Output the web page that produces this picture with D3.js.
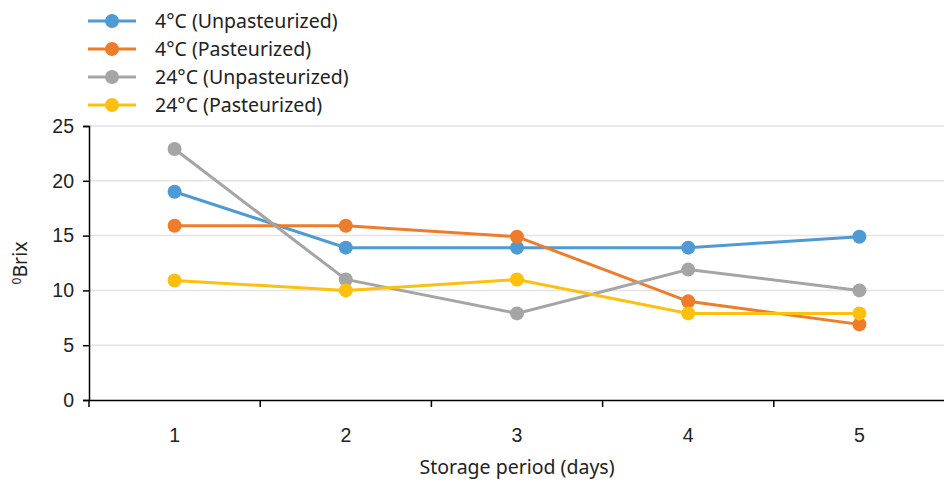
<!DOCTYPE html>
<html>
<head>
<meta charset="utf-8">
<script src="https://cdn.jsdelivr.net/npm/d3@7"></script>
<style>
  body { margin: 0; background: #fff; }
  svg { display: block; font-family: "Noto Sans", "Open Sans", sans-serif; }
</style>
</head>
<body>
<div id="chart"></div>
<script>
// Data
const days = ["1", "2", "3", "4", "5"];
const yTicks = [0, 5, 10, 15, 20, 25];
const seriesNames = ["4°C (Unpasteurized)", "4°C (Pasteurized)", "24°C (Unpasteurized)", "24°C (Pasteurized)"];
const seriesColors = ["#4e9ad4", "#ee7c2b", "#a5a5a5", "#fdc00f"];
const unpast4 = [19, 13.9, 13.9, 13.9, 14.9];
const past4 = [15.9, 15.9, 14.9, 9, 6.9];
const unpast24 = [22.9, 11, 7.9, 11.9, 10];
const past24 = [10.9, 10, 11, 7.9, 7.9];
const seriesValues = [unpast4, past4, unpast24, past24];

const width = 944, height = 483;
const margin = { left: 89, right: 0, top: 126, bottom: 83 };
const fs = 19.5;

const svg = d3.select("#chart").append("svg")
    .attr("width", width)
    .attr("height", height);

// Scales
const x = d3.scaleBand().domain(days).range([margin.left, 945]);
const y = d3.scaleLinear().domain([0, 25]).range([height - margin.bottom, margin.top]);

// Gridlines
svg.append("g")
    .selectAll("line")
    .data(yTicks.filter(d => d > 0))
    .join("line")
    .attr("x1", margin.left)
    .attr("x2", width)
    .attr("y1", d => y(d))
    .attr("y2", d => y(d))
    .attr("stroke", "#e3e3e3")
    .attr("stroke-width", 1.5);

// Y axis
const gy = svg.append("g")
    .attr("transform", `translate(${margin.left},0)`)
    .call(d3.axisLeft(y).tickValues(yTicks).tickSize(6).tickPadding(9));
gy.select(".domain").attr("stroke", "#000").attr("stroke-width", 1.5);
gy.selectAll(".tick line").attr("stroke", "#000").attr("stroke-width", 1.5);
gy.selectAll(".tick text").attr("font-size", fs).attr("fill", "#222").attr("font-family", "inherit");

// X axis
const gx = svg.append("g")
    .attr("transform", `translate(0,${y(0)})`)
    .call(d3.axisBottom(x).tickSize(0).tickPadding(28));
gx.select(".domain").attr("stroke", "#000").attr("stroke-width", 1.5);
gx.selectAll(".tick text").attr("font-size", fs).attr("fill", "#222").attr("font-family", "inherit");
gx.selectAll(".boundary")
    .data(days.map(d => x(d) + x.bandwidth()).concat([x(days[0])]))
    .join("line")
    .attr("x1", d => d)
    .attr("x2", d => d)
    .attr("y1", 0)
    .attr("y2", 7)
    .attr("stroke", "#000")
    .attr("stroke-width", 1.5);

// Axis titles
svg.append("text")
    .attr("x", 517)
    .attr("y", 474)
    .attr("text-anchor", "middle")
    .attr("font-size", fs)
    .attr("fill", "#222")
    .text("Storage period (days)");

const yTitle = svg.append("text")
    .attr("transform", `translate(27,${y(12.5)}) rotate(-90)`)
    .attr("text-anchor", "middle")
    .attr("font-size", fs)
    .attr("fill", "#222");
yTitle.append("tspan").attr("font-size", 12).attr("dy", -6).text("0");
yTitle.append("tspan").attr("dy", 6).text("Brix");

// Lines and markers
const line = d3.line()
    .x((d, i) => x(days[i]) + x.bandwidth() / 2)
    .y(d => y(d));

seriesValues.forEach((vals, s) => {
    const g = svg.append("g");
    g.append("path")
        .datum(vals)
        .attr("fill", "none")
        .attr("stroke", seriesColors[s])
        .attr("stroke-width", 3)
        .attr("d", line);
    g.selectAll("circle")
        .data(vals)
        .join("circle")
        .attr("cx", (d, i) => x(days[i]) + x.bandwidth() / 2)
        .attr("cy", d => y(d))
        .attr("r", 7)
        .attr("fill", seriesColors[s]);
});

// Legend
const legend = svg.append("g");
seriesNames.forEach((name, i) => {
    const ly = 21 + i * 28;
    legend.append("line")
        .attr("x1", 88).attr("x2", 136)
        .attr("y1", ly).attr("y2", ly)
        .attr("stroke", seriesColors[i])
        .attr("stroke-width", 3);
    legend.append("circle")
        .attr("cx", 112).attr("cy", ly).attr("r", 7)
        .attr("fill", seriesColors[i]);
    legend.append("text")
        .attr("x", 155).attr("y", ly + 7)
        .attr("font-size", fs)
        .attr("fill", "#222")
        .text(name);
});
</script>
</body>
</html>
